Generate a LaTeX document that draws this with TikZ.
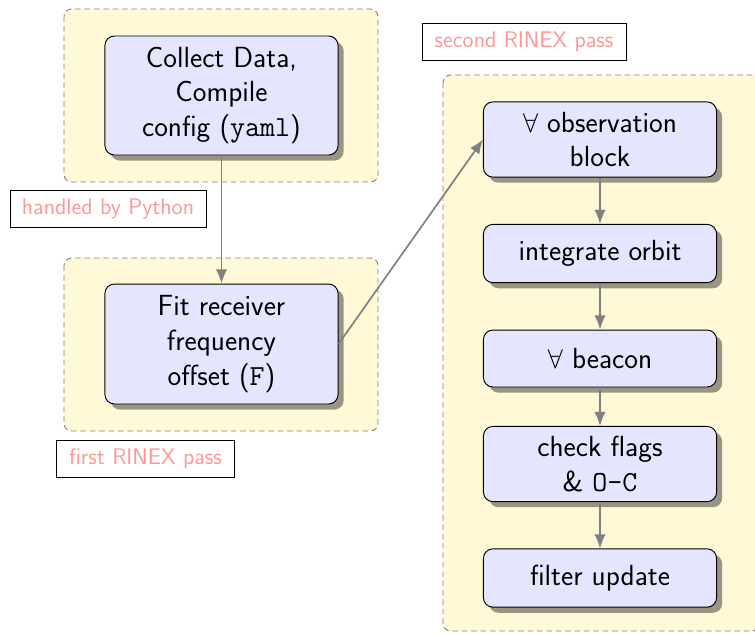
\documentclass[tikz,border=0pt]{standalone}
\usetikzlibrary{shadows,arrows.meta}
\definecolor{contfill}{RGB}{255,249,216}
\definecolor{boxfill}{RGB}{229,229,255}
\definecolor{labtext}{RGB}{255,150,150}
\begin{document}
\begin{tikzpicture}[x=0.532pt,y=-0.532pt,
  container/.style={draw=gray, dash pattern=on 3pt off 2pt, fill=contfill, rounded corners=4pt, line width=0.5pt},
  stepbox/.style={draw=black, fill=boxfill, rounded corners=5pt, line width=0.5pt,
    minimum width=124pt, inner sep=0pt, align=center, font=\sffamily\fontsize{15.5}{18.6}\selectfont,
    drop shadow={shadow xshift=3pt, shadow yshift=-3pt, fill=black, opacity=0.4}},
  labelbox/.style={draw=black, fill=white, line width=0.5pt, inner sep=0pt, text=labtext, font=\sffamily\fontsize{12}{14}\selectfont, minimum height=20pt},
  conn/.style={draw=gray, line width=0.9pt, -{Latex[length=7.5pt,width=6pt]}}
  ]
\useasboundingbox (0,0) rectangle (755,633);
\draw[container] (64,9) rectangle (378,182);
\draw[container] (64,258) rectangle (378,431);
\draw[container] (443,75) rectangle (760,631);

\node[stepbox, minimum height=63.3pt] (collect) at (221.5,95.5) {Collect Data,\\Compile\\config (\texttt{yaml})};
\node[stepbox, minimum height=63.8pt] (fit) at (221.5,344) {Fit receiver\\frequency\\offset (\texttt{F})};

\node[stepbox, minimum height=40pt] (obs) at (600,139.5) {$\forall$ observation\\block};
\node[stepbox, minimum height=31pt] (orbit) at (600,253.5) {integrate orbit};
\node[stepbox, minimum height=30.3pt] (beacon) at (600,358.5) {$\forall$ beacon};
\node[stepbox, minimum height=40pt] (check) at (600,464) {check flags\\\& \texttt{O-C}};
\node[stepbox, minimum height=31pt] (filter) at (600,578) {filter update};

\node[labelbox, minimum width=104.3pt] (lpy) at (108,209) {handled by Python};
\node[labelbox, minimum width=94.2pt] (lfirst) at (145.5,459) {first RINEX pass};
\node[labelbox, minimum width=108.5pt] (lsecond) at (524,42) {second RINEX pass};

\draw[conn] (collect) -- (fit);
\draw[conn] (fit.east) -- (obs.west);
\draw[conn] (obs) -- (orbit);
\draw[conn] (orbit) -- (beacon);
\draw[conn] (beacon) -- (check);
\draw[conn] (check) -- (filter);
\end{tikzpicture}
\end{document}
